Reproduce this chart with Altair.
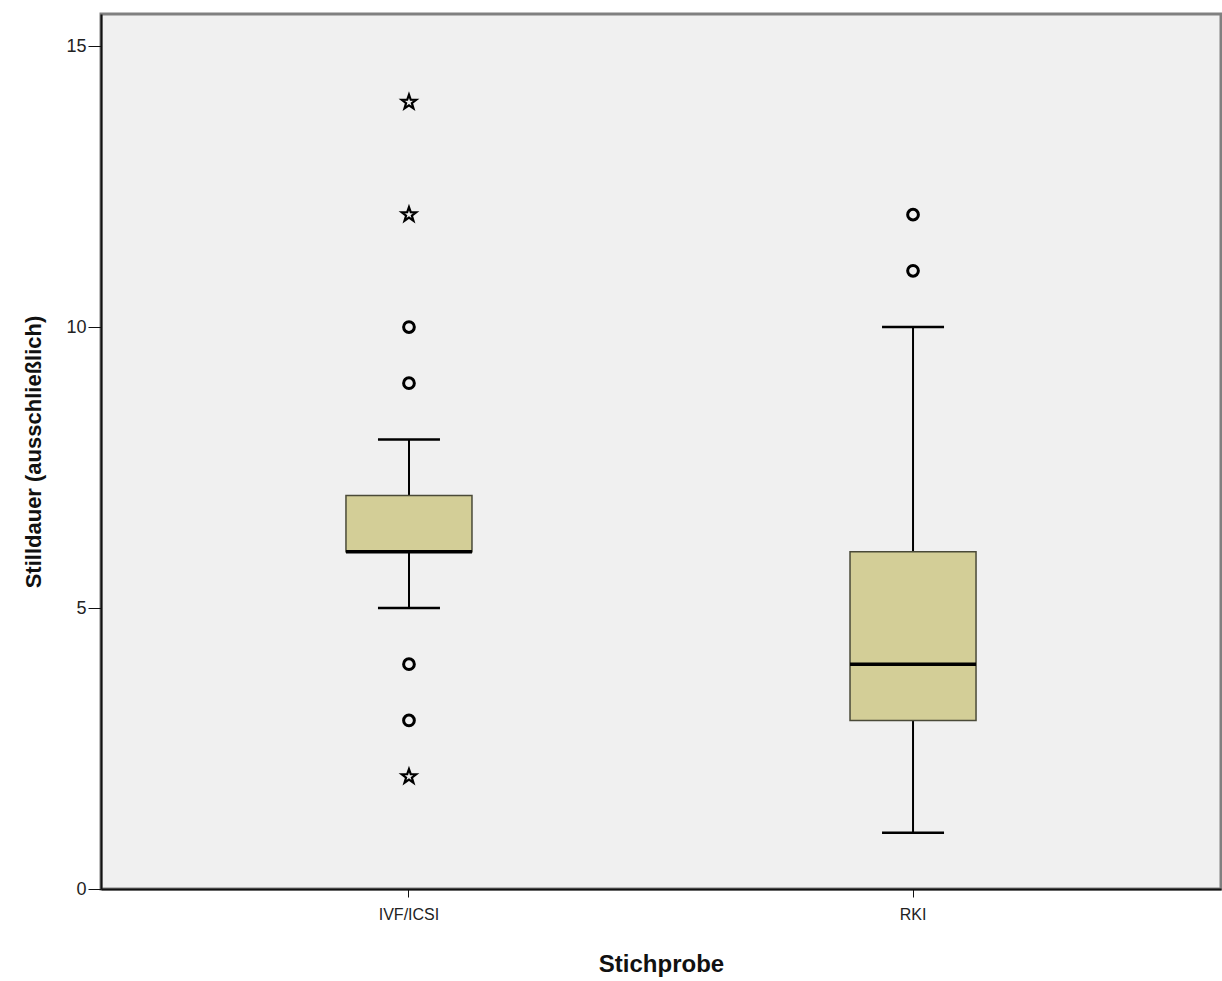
import math
import altair as alt
import pandas as pd

# ---- data ----
groups = ["IVF/ICSI", "RKI"]
q1 = [6, 3]
q3 = [7, 6]
median = [6, 4]
whisk_lo = [5, 1]
whisk_hi = [8, 10]

outlier_group = ["IVF/ICSI", "IVF/ICSI", "IVF/ICSI", "IVF/ICSI", "RKI", "RKI"]
outlier_val = [10, 9, 4, 3, 12, 11]

extreme_group = ["IVF/ICSI", "IVF/ICSI", "IVF/ICSI"]
extreme_val = [14, 12, 2]

box_df = pd.DataFrame({"g": groups, "q1": q1, "q3": q3, "med": median,
                       "lo": whisk_lo, "hi": whisk_hi})
out_df = pd.DataFrame({"g": outlier_group, "v": outlier_val})
ext_df = pd.DataFrame({"g": extreme_group, "v": extreme_val})

# star outline path
pts = []
for i in range(10):
    r = 1.0 if i % 2 == 0 else 0.4
    a = -math.pi / 2 + i * math.pi / 5
    pts.append(f"{r*math.cos(a):.3f},{r*math.sin(a):.3f}")
star_path = "M" + "L".join(pts) + "Z"

xscale = alt.Scale(domain=groups, paddingInner=0.75, paddingOuter=0.486)
yscale = alt.Scale(domain=[0, 15.57], nice=False, zero=False)

xenc = alt.X("g:N", scale=xscale, sort=groups,
             axis=alt.Axis(title="Stichprobe", labelAngle=0, labelFontSize=16,
                           labelFont="Liberation Sans", labelColor="#222",
                           titleFont="Liberation Sans", titleFontSize=24,
                           titleFontWeight="bold", titleColor="#111",
                           titlePadding=30, tickSize=8, tickColor="#111",
                           domainColor="#111", domainWidth=2, labelPadding=9))
yaxis = alt.Axis(title="Stilldauer (ausschließlich)", values=[0, 5, 10, 15],
                 grid=False, labelFontSize=18, labelFont="Liberation Sans",
                 labelColor="#222", titleFont="Liberation Sans",
                 titleFontSize=22, titleFontWeight="bold", titleColor="#111",
                 titlePadding=20, tickSize=13, tickColor="#111",
                 domainColor="#111", domainWidth=2, labelPadding=2)

whiskers = alt.Chart(box_df).mark_rule(color="black", strokeWidth=2).encode(
    x=xenc,
    y=alt.Y("lo:Q", scale=yscale, axis=yaxis),
    y2="hi:Q",
)
caps_lo = alt.Chart(box_df).mark_tick(color="black", thickness=2.5, size=62,
                                      opacity=1).encode(
    x=alt.X("g:N", scale=xscale, sort=groups), y=alt.Y("lo:Q", scale=yscale))
caps_hi = alt.Chart(box_df).mark_tick(color="black", thickness=2.5, size=62,
                                      opacity=1).encode(
    x=alt.X("g:N", scale=xscale, sort=groups), y=alt.Y("hi:Q", scale=yscale))
boxes = alt.Chart(box_df).mark_bar(color="#D3CE97", stroke="#4a4a38",
                                   strokeWidth=1.5, opacity=1).encode(
    x=alt.X("g:N", scale=xscale, sort=groups),
    y=alt.Y("q1:Q", scale=yscale), y2="q3:Q")
med = alt.Chart(box_df).mark_tick(color="black", thickness=3.5, size=126,
                                  opacity=1).encode(
    x=alt.X("g:N", scale=xscale, sort=groups), y=alt.Y("med:Q", scale=yscale))
outl = alt.Chart(out_df).mark_point(shape="circle", filled=False, color="black",
                                    strokeWidth=3, size=115, opacity=1).encode(
    x=alt.X("g:N", scale=xscale, sort=groups), y=alt.Y("v:Q", scale=yscale))
ext = alt.Chart(ext_df).mark_point(shape=star_path, filled=False, color="black",
                                   strokeWidth=2.2, size=230, opacity=1).encode(
    x=alt.X("g:N", scale=xscale, sort=groups), y=alt.Y("v:Q", scale=yscale))

chart = alt.layer(whiskers, caps_lo, caps_hi, boxes, med, outl, ext).properties(
    width=1120, height=875,
    background="white",
    autosize=alt.AutoSizeParams(type="none"),
    padding={"left": 101, "top": 14, "right": 1, "bottom": 92},
).configure_view(fill="#F0F0F0", stroke="#808080", strokeWidth=3)

chart.save("out.html", embed_options={"renderer": "svg", "actions": False})
